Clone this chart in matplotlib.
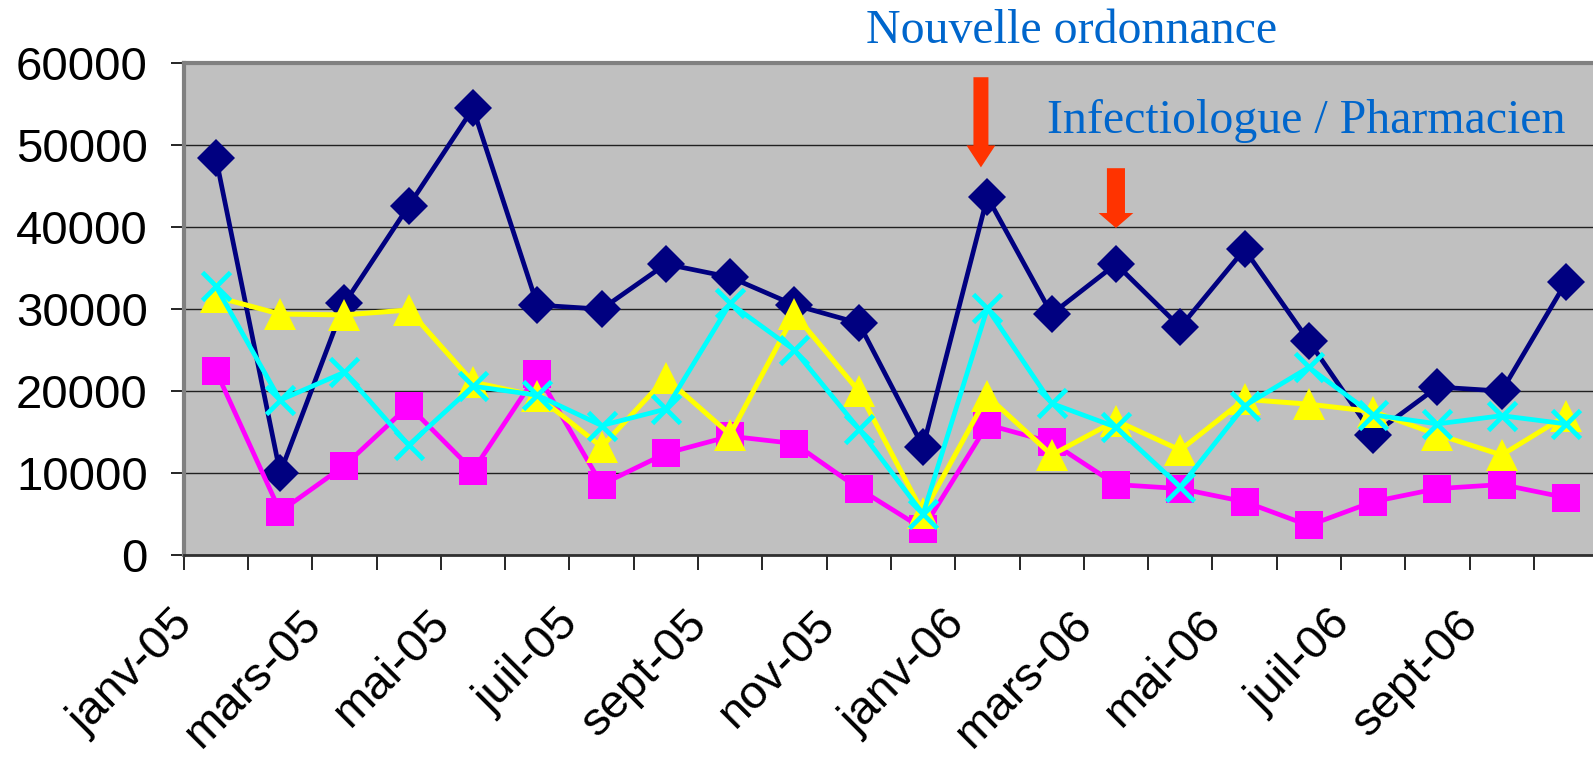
import numpy as np
import matplotlib.pyplot as plt
from matplotlib.patches import FancyArrowPatch
from matplotlib.transforms import ScaledTranslation

months = ['janv-05', 'févr-05', 'mars-05', 'avr-05', 'mai-05', 'juin-05',
          'juil-05', 'août-05', 'sept-05', 'oct-05', 'nov-05', 'déc-05',
          'janv-06', 'févr-06', 'mars-06', 'avr-06', 'mai-06', 'juin-06',
          'juil-06', 'août-06', 'sept-06', 'oct-06']

navy = [48500, 10000, 30700, 42600, 54500, 30500, 30000, 35500, 33900, 30500, 28300,
        13200, 43700, 29400, 35500, 27800, 37300, 26100, 14700, 20500, 20000, 33300]
magenta = [22500, 5300, 10900, 18200, 10300, 22100, 8600, 12400, 14500, 13600, 8100,
           3200, 15900, 13750, 8600, 8100, 6500, 3600, 6500, 8100, 8600, 7000]
yellow = [31500, 29400, 29300, 29900, 21100, 19400, 13200, 21600, 14700, 29400, 20000,
          5100, 19400, 12200, 16400, 12800, 19000, 18400, 17500, 14700, 12200, 17000]
cyan = [32800, 18900, 22300, 13400, 20600, 19500, 15800, 17800, 30700, 25000, 15400,
        5000, 30100, 18500, 15600, 8300, 18200, 22900, 17100, 16000, 17000, 16000]

# red arrows: x position (month index), top and tip values
arrow_x = [11.9, 14.0]
arrow_top = [58300, 47200]
arrow_tip = [47300, 39900]

fig = plt.figure(figsize=(15.93, 7.6), dpi=100)
ax = fig.add_axes([183.7 / 1593, 205 / 760, (1593 - 183.7) / 1593, 491.7 / 760])
ax.set_facecolor('#C0C0C0')

x = np.arange(len(months))
ax.plot(x, navy, color='#000080', lw=3.4, marker='D', ms=19, mew=0, zorder=3)
ax.plot(x, magenta, color='#FF00FF', lw=3.4, marker='s', ms=19.5, mew=0, zorder=3)
ax.plot(x, yellow, color='#FFFF00', lw=3.6, marker='^', ms=23, mew=0, zorder=3)
ax.plot(x, cyan, color='#00FFFF', lw=3.4, marker='x', ms=20, mew=3.4, zorder=3)

ax.set_xlim(-0.5, 21.42)
ax.set_ylim(0, 60000)
ax.set_yticks(np.arange(0, 60001, 10000))
ax.yaxis.grid(True, color='#202020', lw=1)
ax.set_axisbelow(True)

ax.set_xticks(x[::2])
ax.set_xticklabels(months[::2], rotation=45, ha='right', va='top')
ax.set_xticks(np.arange(-0.5, 21.5, 1), minor=True)
ax.tick_params(axis='x', which='major', length=0, pad=34, labelsize=34)
ax.tick_params(axis='x', which='minor', length=10.8, width=1.2, color='black')
ax.tick_params(axis='y', length=9.4, width=1.2, color='black', pad=16.5, labelsize=34)
for lab in ax.get_xticklabels() + ax.get_yticklabels():
    lab.set_fontfamily('Liberation Sans')
shift = ScaledTranslation(-0.14, 0, fig.dpi_scale_trans)
for lab in ax.get_xticklabels():
    lab.set_transform(lab.get_transform() + shift)

ax.spines['left'].set_color('#808080')
ax.spines['left'].set_linewidth(3)
ax.spines['top'].set_color('#808080')
ax.spines['top'].set_linewidth(3)
ax.spines['bottom'].set_color('#303030')
ax.spines['bottom'].set_linewidth(2)
ax.spines['right'].set_visible(False)

heads = [(10.8, 20.7, 15.8), (13, 25, 10.8)]
for xa, top, tip, (tw, hw, hl) in zip(arrow_x, arrow_top, arrow_tip, heads):
    arr = FancyArrowPatch((xa, top), (xa, tip),
                          arrowstyle=f'simple,tail_width={tw},head_width={hw},head_length={hl}',
                          color='#FF3300', lw=0, shrinkA=0, shrinkB=0, zorder=5)
    ax.add_patch(arr)

fig.text(866 / 1593, 1 - 43 / 760, 'Nouvelle ordonnance', color='#0066CC',
         fontsize=34.5, family='Liberation Serif', va='baseline', ha='left')
fig.text(1047 / 1593, 1 - 132.7 / 760, 'Infectiologue / Pharmacien', color='#0066CC',
         fontsize=34.5, family='Liberation Serif', va='baseline', ha='left')

fig.savefig('out.png', dpi=100)
